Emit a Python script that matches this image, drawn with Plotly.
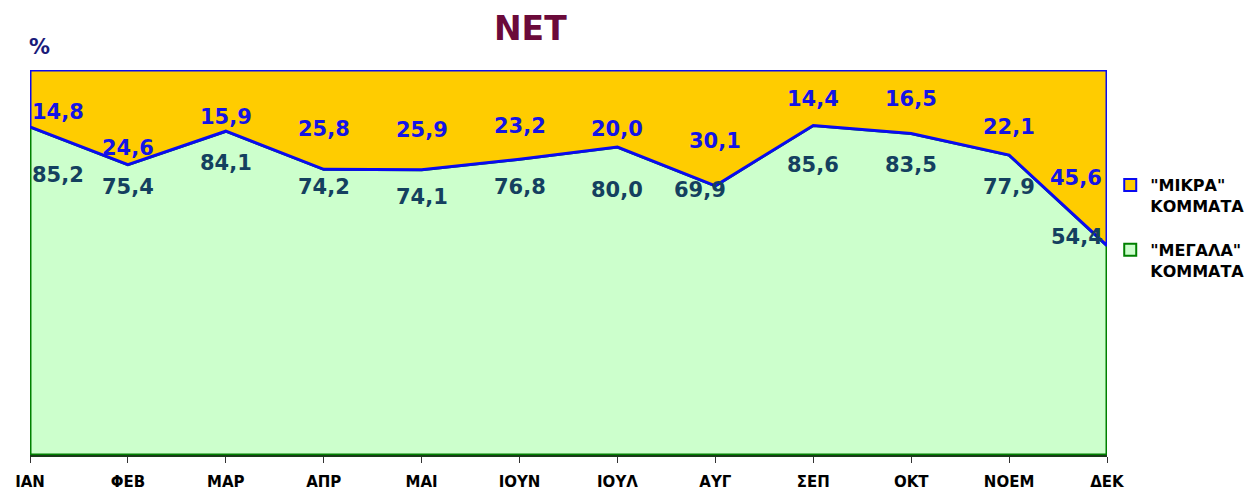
import plotly.graph_objects as go

months = ["ΙΑΝ", "ΦΕΒ", "ΜΑΡ", "ΑΠΡ", "ΜΑΙ", "ΙΟΥΝ", "ΙΟΥΛ", "ΑΥΓ", "ΣΕΠ", "ΟΚΤ", "ΝΟΕΜ", "ΔΕΚ"]
big_parties = [85.2, 75.4, 84.1, 74.2, 74.1, 76.8, 80.0, 69.9, 85.6, 83.5, 77.9, 54.4]
small_parties = [14.8, 24.6, 15.9, 25.8, 25.9, 23.2, 20.0, 30.1, 14.4, 16.5, 22.1, 45.6]

# label offsets (px) as placed in the original sheet
top_shift = [15, 17, 14, 40, 40, 33, 18, 45, 26, 35, 28, 68]
bottom_shift = [48, 22, 32, 18, 27, 28, 43, 4, 40, 31, 32, -9]

FONT = "DejaVu Sans"
n = len(months)
xs = list(range(n))

fig = go.Figure()

# green area, closed polygon so the outline runs round it
gx = xs + [n - 1, 0, 0]
gy = big_parties + [0, 0, big_parties[0]]
fig.add_trace(go.Scatter(x=gx, y=gy, fill="toself", fillcolor="#CCFFCC",
                         mode="lines", line=dict(color="#008000", width=3),
                         showlegend=False, hoverinfo="skip", cliponaxis=False))

# orange area from the line up to 100
tops = [b + s for b, s in zip(big_parties, small_parties)]
ox = xs + xs[::-1] + [0]
oy = big_parties + tops[::-1] + [big_parties[0]]
fig.add_trace(go.Scatter(x=ox, y=oy, fill="toself", fillcolor="#FFCC00",
                         mode="lines", line=dict(color="#0A0AF0", width=3),
                         showlegend=False, hoverinfo="skip", cliponaxis=False))

# legend entries
fig.add_trace(go.Scatter(x=[None], y=[None], mode="markers", name='"ΜΙΚΡΑ"<br>ΚΟΜΜΑΤΑ',
                         legendgroup="a",
                         marker=dict(symbol="square", size=11, color="#FFCC00",
                                     line=dict(color="#0A0AF0", width=3))))
fig.add_trace(go.Scatter(x=[None], y=[None], mode="markers", name='"ΜΕΓΑΛΑ"<br>ΚΟΜΜΑΤΑ',
                         legendgroup="b",
                         marker=dict(symbol="square", size=11, color="#CCFFCC",
                                     line=dict(color="#008000", width=3))))

for i in xs:
    anchor = "center"
    if i == 0:
        anchor = "left"
    elif i == n - 1:
        anchor = "right"
    fig.add_annotation(x=i, y=big_parties[i], text=f"{small_parties[i]:.1f}".replace(".", ","),
                       showarrow=False, xanchor=anchor, yanchor="middle",
                       yshift=top_shift[i], xshift=-3 if i == n - 1 else 0,
                       font=dict(family=FONT, size=21, color="#1414E6", weight="bold"))
    fig.add_annotation(x=i, y=big_parties[i], text=f"{big_parties[i]:.1f}".replace(".", ","),
                       showarrow=False, xanchor=anchor, yanchor="middle",
                       yshift=-bottom_shift[i], xshift=-15 if i == 7 else (-2 if i == n - 1 else 0),
                       font=dict(family=FONT, size=21, color="#14405F", weight="bold"))

fig.add_annotation(x=0.465, y=1.109, xref="paper", yref="paper", text="NET", showarrow=False,
                   yanchor="middle", font=dict(family=FONT, size=33, color="#6B0A3A", weight="bold"))
fig.add_annotation(x=0.009, y=1.06, xref="paper", yref="paper", text="%", showarrow=False,
                   xanchor="center", yanchor="middle",
                   font=dict(family=FONT, size=21, color="#1A1A7A", weight="bold"))

fig.update_xaxes(range=[0, n - 1], tickvals=xs, ticktext=months, ticks="outside",
                 ticklen=6, tickcolor="#333333", showgrid=False, zeroline=False,
                 showline=True, linecolor="#1A3A1A", linewidth=1.5, automargin=False,
                 ticklabelstandoff=6,
                 tickfont=dict(family=FONT, size=15, color="#000000", weight="bold"))
fig.update_yaxes(range=[0, 100], visible=False, showgrid=False, zeroline=False, automargin=False)

# the page body adds an 8px offset, so the figure is 8px smaller and margins shifted
fig.update_layout(
    width=1246, height=485,
    margin=dict(l=22, r=147, t=62, b=38, autoexpand=False),
    plot_bgcolor="white", paper_bgcolor="white",
    legend=dict(x=1.003, y=0.745, xanchor="left", yanchor="top", valign="top",
                tracegroupgap=20, itemsizing="constant", itemwidth=30,
                font=dict(family=FONT, size=16, color="#000000", weight="bold")),
)

fig.write_html("out.html")
